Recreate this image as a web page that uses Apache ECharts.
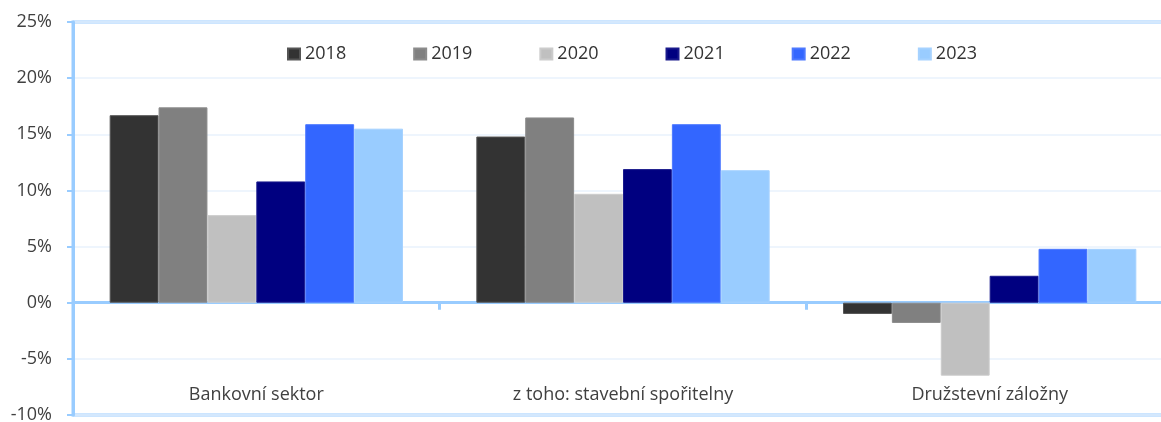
<!DOCTYPE html>
<html>
<head>
<meta charset="utf-8">
<script src="https://cdn.jsdelivr.net/npm/echarts@6/dist/echarts.min.js"></script>
<style>
  html, body { margin: 0; padding: 0; background: #fff; }
  #chart { width: 1161px; height: 422px; }
</style>
</head>
<body>
<div id="chart"></div>
<script>
// kategorie a roky
const categories = ['Bankovní sektor', 'z toho: stavební spořitelny', 'Družstevní záložny'];
const years = ['2018', '2019', '2020', '2021', '2022', '2023'];
// hodnoty v %
const v2018 = [16.7, 14.8, -1.0];
const v2019 = [17.4, 16.5, -1.8];
const v2020 = [7.8, 9.7, -6.5];
const v2021 = [10.8, 11.9, 2.4];
const v2022 = [15.9, 15.9, 4.8];
const v2023 = [15.5, 11.8, 4.8];
const values = [v2018, v2019, v2020, v2021, v2022, v2023];
const colors = ['#333333', '#808080', '#C0C0C0', '#000080', '#3366FF', '#99CCFF'];
const borders = ['#555555', '#8c8c8c', '#cccccc', '#1a1a8c', '#4d79ff', '#a6d2ff'];

const lineBlue = '#99CCFF';
const font = 'Open Sans';

const chart = echarts.init(document.getElementById('chart'));

const option = {
  animation: false,
  textStyle: { fontFamily: font },
  grid: {
    left: 73,
    top: 22,
    width: 1100,
    height: 393,
    outerBoundsMode: 'none',
    containLabel: false,
    show: true,
    borderColor: lineBlue,
    borderWidth: 3,
  },
  legend: {
    left: 282,
    top: 40,
    itemWidth: 12,
    itemHeight: 11,
    itemGap: 67,
    icon: 'rect',
    textStyle: { fontSize: 18, color: '#333', fontFamily: font },
    data: years,
  },
  xAxis: [
    {
      // popisky kategorii dole
      type: 'category',
      position: 'bottom',
      data: categories,
      axisLine: { show: false, onZero: false },
      axisTick: { show: false },
      axisLabel: { inside: true, margin: 11, fontSize: 18, color: '#404040' },
    },
    {
      // nulova osa s carkami
      type: 'category',
      position: 'bottom',
      data: categories,
      axisLine: { show: true, onZero: true, lineStyle: { color: lineBlue, width: 3 } },
      axisTick: { show: true, length: 7, lineStyle: { color: lineBlue, width: 3 } },
      axisLabel: { show: false },
    },
  ],
  yAxis: {
    type: 'value',
    min: -10,
    max: 25,
    interval: 5,
    axisLine: { show: true, lineStyle: { color: lineBlue, width: 3 } },
    axisTick: { show: true, length: 6, lineStyle: { color: lineBlue, width: 2 } },
    axisLabel: { formatter: '{value}%', fontSize: 18, color: '#404040', margin: 21 },
    splitLine: { show: true, lineStyle: { color: '#E8F2FD', width: 1.5 } },
  },
  series: years.map((y, i) => ({
    name: y,
    type: 'bar',
    xAxisIndex: 0,
    barGap: 0,
    barCategoryGap: '20%',
    data: values[i],
    itemStyle: { color: colors[i], borderColor: borders[i], borderWidth: 1 },
  })),
};

chart.setOption(option);
</script>
</body>
</html>
